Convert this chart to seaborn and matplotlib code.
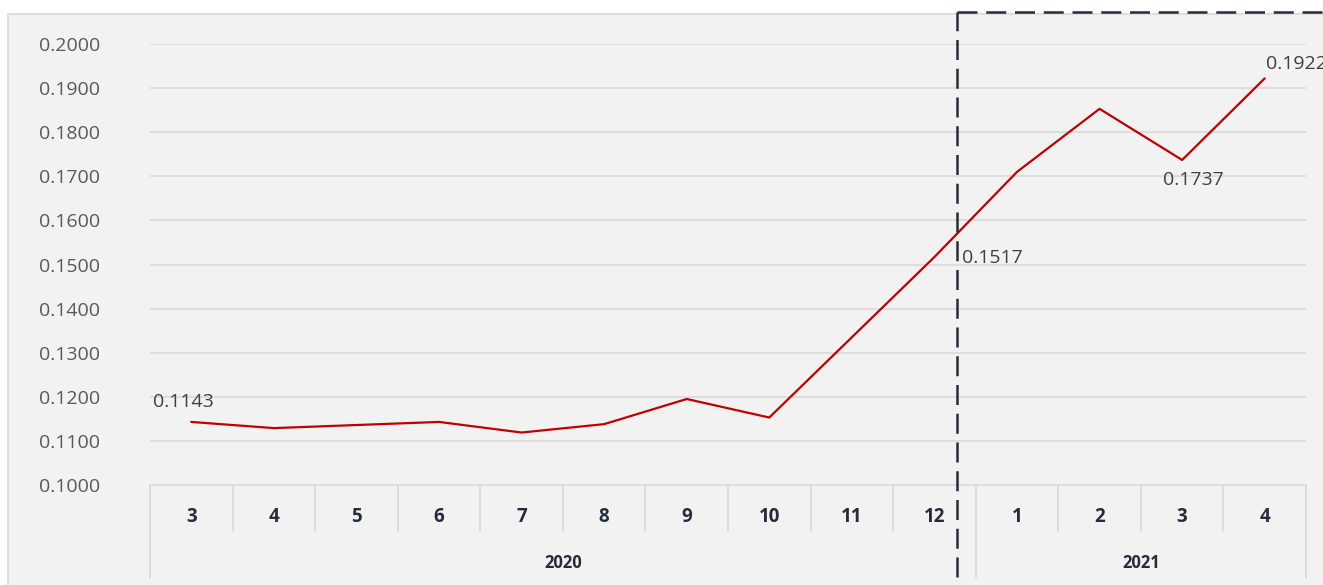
import pandas as pd
import matplotlib.pyplot as plt
import seaborn as sb
import numpy as np
from matplotlib.patches import Rectangle
import matplotlib.transforms as mtrans

months = ['3', '4', '5', '6', '7', '8', '9', '10', '11', '12', '1', '2', '3', '4']
years = ['2020'] * 10 + ['2021'] * 4
values = [0.1143, 0.1129, 0.1136, 0.1143, 0.1119, 0.1138, 0.1195,
          0.1153, 0.1335, 0.1517, 0.1710, 0.1853, 0.1737, 0.1922]
yticks = [0.10, 0.11, 0.12, 0.13, 0.14, 0.15, 0.16, 0.17, 0.18, 0.19, 0.20]
labelled = [0, 9, 12, 13]

df = pd.DataFrame({'pos': np.arange(len(months)), 'month': months,
                   'year': years, 'value': values})

sb.set_theme(style='white')
plt.rcParams['font.family'] = ['Open Sans', 'DejaVu Sans']

W, H = 1323, 585
fig = plt.figure(figsize=(W / 100, H / 100), dpi=100, facecolor='white')
# chart area background
bg = Rectangle((8 / W, -0.05), 1.0, 1.05 - 14 / H, transform=fig.transFigure,
               facecolor='#f2f2f2', edgecolor='#d9d9d9', lw=1.2)
bg.set_zorder(-10)
fig.patches.append(bg)
ax = fig.add_axes([150 / W, 100 / H, 1156 / W, 441 / H])
ax.set_zorder(1)
ax.set_facecolor('none')

sb.lineplot(data=df, x='pos', y='value', color='#c00000', lw=1.6, ax=ax, zorder=3)

ax.set_xlim(-0.5, len(months) - 0.5)
ax.set_ylim(0.10, 0.20)
ax.set_yticks(yticks)
ax.set_yticklabels([f'{v:.4f}' for v in yticks], fontsize=14, color='#595959')
ax.tick_params(axis='y', length=0, pad=36)
for t in ax.get_yticklabels():
    t.set_horizontalalignment('right')
ax.set_xticks([])
ax.set_xlabel('')
ax.set_ylabel('')
for s in ax.spines.values():
    s.set_visible(False)
for v in yticks[1:]:
    ax.axhline(v, color='#d9d9d9', lw=1.2, zorder=1)

# category axis boxes
tr = mtrans.blended_transform_factory(ax.transData, ax.transAxes)
n = len(months)
ax.plot([-0.5, n - 0.5], [0, 0], color='#d9d9d9', lw=1.2, transform=tr, clip_on=False)
for i in range(n + 1):
    x = i - 0.5
    bottom = -0.211 if i in (0, 10, n) else -0.104
    ax.plot([x, x], [0, bottom], color='#d9d9d9', lw=1.2, transform=tr, clip_on=False)
for i, m in enumerate(months):
    ax.text(i, -0.073, m, transform=tr, ha='center', va='center',
            fontsize=13.5, fontweight='bold', color='#262c3a')
for yr in ['2020', '2021']:
    idx = df.index[df.year == yr]
    mid = (idx.min() + idx.max()) / 2
    ax.text(mid, -0.177, yr, transform=tr, ha='center', va='center',
            fontsize=12, fontweight='bold', color='#262c3a')

# data labels
offsets = {0: (-8, 20, 'center'), 9: (28, -1, 'left'), 12: (11, -20, 'center'), 13: (1, 14, 'left')}
for i in labelled:
    dx, dy, ha = offsets[i]
    ax.annotate(f'{values[i]:.4f}', (i, values[i]), xytext=(dx, dy),
                textcoords='offset pixels', ha=ha, va='center',
                fontsize=14, color='#404040', annotation_clip=False)

# dashed highlight box
xb = 9.27
ax.plot([xb, xb], [-0.209, 1.0726], transform=tr, clip_on=False,
        color='#262c3a', lw=1.8, dashes=(8, 3.5), zorder=4)
ax.plot([xb, n + 1], [1.0726, 1.0726], transform=tr, clip_on=False,
        color='#262c3a', lw=1.8, dashes=(8, 3.5), zorder=4)

fig.savefig('out.png', dpi=100, facecolor='white')
